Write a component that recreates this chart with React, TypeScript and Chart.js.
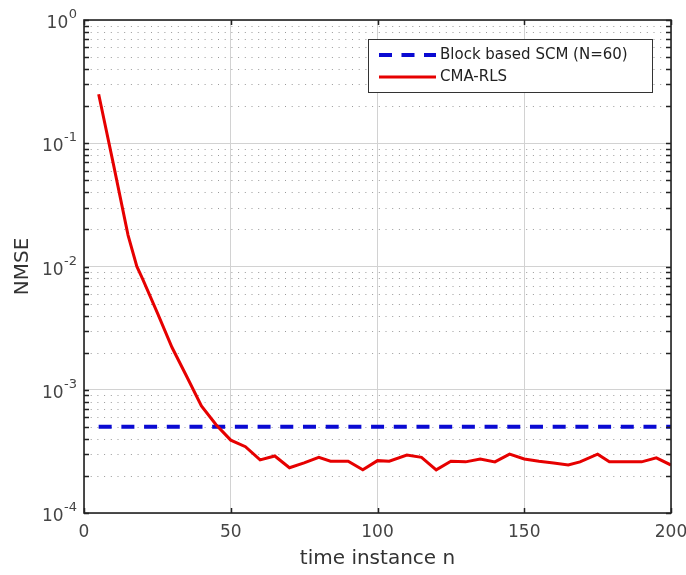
import React, { useEffect, useRef } from "react";
import { Chart, registerables } from "chart.js";

Chart.register(...registerables);

// ---- data ----
const timeN = [5, 10, 15, 18, 20, 25, 30, 35, 40, 45, 50, 55, 60, 65, 70, 75, 80, 84, 90, 95, 100, 104, 110, 115, 120, 125, 130, 135, 140, 145, 150, 155, 160, 165, 169, 175, 179, 190, 195, 200];
const cmaRlsNmse = [0.25, 0.068, 0.018, 0.01, 0.0079, 0.0042, 0.0022, 0.00128, 0.00074, 0.00052, 0.00039, 0.000345, 0.00027, 0.00029, 0.000233, 0.000255, 0.000283, 0.000263, 0.000263, 0.000224, 0.000266, 0.000263, 0.000295, 0.000283, 0.000224, 0.000263, 0.00026, 0.000274, 0.00026, 0.0003, 0.000274, 0.000263, 0.000255, 0.000245, 0.00026, 0.0003, 0.00026, 0.00026, 0.00028, 0.000245];
const scmN = [5, 200];
const scmNmse = [0.0005, 0.0005];
const xTickValues = [0, 50, 100, 150, 200];
const yDecades = [1e-4, 1e-3, 1e-2, 1e-1, 1];
const yTickBase = "10";
const yTickExponents = ["-4", "-3", "-2", "-1", "0"];
const seriesLabels = ["Block based SCM (N=60)", "CMA-RLS"];
const xTitle = "time instance n";
const yTitle = "NMSE";

const FONT = "'DejaVu Sans', 'Liberation Sans', sans-serif";
const BLUE = "#0a0ad2";
const RED = "#e60000";

const framePlugin = {
  id: "frame",
  beforeDatasetsDraw(chart: any) {
    const { ctx, chartArea: a, scales } = chart;
    const y = scales.y;
    ctx.save();
    ctx.strokeStyle = "#9a9a9a";
    ctx.lineWidth = 1;
    ctx.setLineDash([1, 5.7]);
    for (let e = -4; e < 0; e++) {
      for (let k = 2; k <= 9; k++) {
        const py = Math.round(y.getPixelForValue(k * Math.pow(10, e))) + 0.5;
        ctx.beginPath();
        ctx.moveTo(a.left, py);
        ctx.lineTo(a.right, py);
        ctx.stroke();
      }
    }
    ctx.restore();
  },
  afterDraw(chart: any) {
    const { ctx, chartArea: a, scales } = chart;
    const x = scales.x;
    const y = scales.y;
    ctx.save();
    ctx.setLineDash([]);
    ctx.strokeStyle = "#222";
    ctx.lineWidth = 1.5;
    // ticks inward
    const tl = 5;
    for (let e = -4; e <= 0; e++) {
      for (let k = 1; k <= 9; k++) {
        const v = k * Math.pow(10, e);
        if (v > 1.0001) continue;
        const py = Math.round(y.getPixelForValue(v)) + 0.5;
        ctx.beginPath();
        ctx.moveTo(a.left, py);
        ctx.lineTo(a.left + tl, py);
        ctx.moveTo(a.right, py);
        ctx.lineTo(a.right - tl, py);
        ctx.stroke();
      }
    }
    for (const v of xTickValues) {
      const px = Math.round(x.getPixelForValue(v)) + 0.5;
      ctx.beginPath();
      ctx.moveTo(px, a.bottom);
      ctx.lineTo(px, a.bottom - tl);
      ctx.moveTo(px, a.top);
      ctx.lineTo(px, a.top + tl);
      ctx.stroke();
    }
    // frame
    ctx.lineWidth = 1.6;
    ctx.strokeStyle = "#222";
    ctx.strokeRect(a.left, a.top, a.right - a.left, a.bottom - a.top);

    // y tick labels with superscript exponents
    ctx.fillStyle = "#444";
    ctx.textBaseline = "alphabetic";
    ctx.textAlign = "left";
    const rightEdge = a.left - 7;
    yDecades.forEach((v, i) => {
      const py = y.getPixelForValue(v);
      ctx.font = `13px ${FONT}`;
      const ew = ctx.measureText(yTickExponents[i]).width;
      const ex = rightEdge - ew;
      ctx.fillText(yTickExponents[i], ex, py - 2);
      ctx.font = `17px ${FONT}`;
      const bw = ctx.measureText(yTickBase).width;
      ctx.fillText(yTickBase, ex - bw - 0.5, py + 8);
    });

    // legend
    const lx = 368, ly = 39, lw = 284, lh = 53;
    ctx.fillStyle = "#fff";
    ctx.fillRect(lx, ly, lw, lh);
    ctx.lineWidth = 1;
    ctx.strokeStyle = "#333";
    ctx.strokeRect(lx + 0.5, ly + 0.5, lw, lh);
    const rows = [55, 77];
    ctx.strokeStyle = BLUE;
    ctx.lineWidth = 4;
    ctx.setLineDash([13, 9.5]);
    ctx.beginPath();
    ctx.moveTo(379, rows[0]);
    ctx.lineTo(436, rows[0]);
    ctx.stroke();
    ctx.setLineDash([]);
    ctx.strokeStyle = RED;
    ctx.lineWidth = 3;
    ctx.beginPath();
    ctx.moveTo(379, rows[1]);
    ctx.lineTo(436, rows[1]);
    ctx.stroke();
    ctx.fillStyle = "#222";
    ctx.font = `15px ${FONT}`;
    ctx.textBaseline = "middle";
    ctx.textAlign = "left";
    ctx.fillText(seriesLabels[0], 440, rows[0]);
    ctx.fillText(seriesLabels[1], 440, rows[1]);
    ctx.restore();
  },
};

export default function App() {
  const ref = useRef<HTMLCanvasElement>(null);
  useEffect(() => {
    if (!ref.current) return;
    const chart = new Chart(ref.current, {
      type: "line",
      data: {
        datasets: [
          {
            label: seriesLabels[0],
            data: scmN.map((n, i) => ({ x: n, y: scmNmse[i] })),
            borderColor: BLUE,
            borderWidth: 4,
            borderDash: [13, 9.7],
            pointRadius: 0,
            order: 1,
          },
          {
            label: seriesLabels[1],
            data: timeN.map((n, i) => ({ x: n, y: cmaRlsNmse[i] })),
            borderColor: RED,
            borderWidth: 3,
            pointRadius: 0,
            tension: 0,
            order: 0,
          },
        ],
      },
      options: {
        animation: false,
        responsive: false,
        layout: { padding: { top: 20, right: 15, left: 0, bottom: 0 } },
        plugins: { legend: { display: false }, tooltip: { enabled: false } },
        scales: {
          x: {
            type: "linear",
            min: 0,
            max: 200,
            afterBuildTicks: (s: any) => {
              s.ticks = xTickValues.map((v) => ({ value: v }));
            },
            afterFit: (s: any) => {
              s.height = 62;
              s.paddingLeft = 0;
              s.paddingRight = 0;
            },
            ticks: {
              font: { family: FONT, size: 17 },
              color: "#444",
              padding: 9,
              maxRotation: 0,
              autoSkip: false,
            },
            grid: { color: "#d2d2d2", lineWidth: 1, drawTicks: false },
            border: { display: false },
            title: {
              display: true,
              text: xTitle,
              font: { family: FONT, size: 20 },
              color: "#333",
              padding: { top: 0, bottom: 4 },
            },
          },
          y: {
            type: "logarithmic",
            min: 1e-4,
            max: 1,
            afterBuildTicks: (s: any) => {
              s.ticks = yDecades.map((v) => ({ value: v, major: true }));
            },
            afterFit: (s: any) => {
              s.width = 84;
              s.paddingTop = 0;
              s.paddingBottom = 0;
            },
            ticks: { display: false },
            grid: { color: "#d2d2d2", lineWidth: 1, drawTicks: false },
            border: { display: false },
            title: {
              display: true,
              text: yTitle,
              font: { family: FONT, size: 20 },
              color: "#333",
              padding: { top: 11, bottom: 0 },
            },
          },
        },
      },
      plugins: [framePlugin],
    });
    return () => chart.destroy();
  }, []);
  return (
    <div style={{ position: "fixed", left: 0, top: 0, width: 686, height: 575, background: "#fff" }}>
      <canvas ref={ref} width={686} height={575} style={{ display: "block" }} />
    </div>
  );
}
